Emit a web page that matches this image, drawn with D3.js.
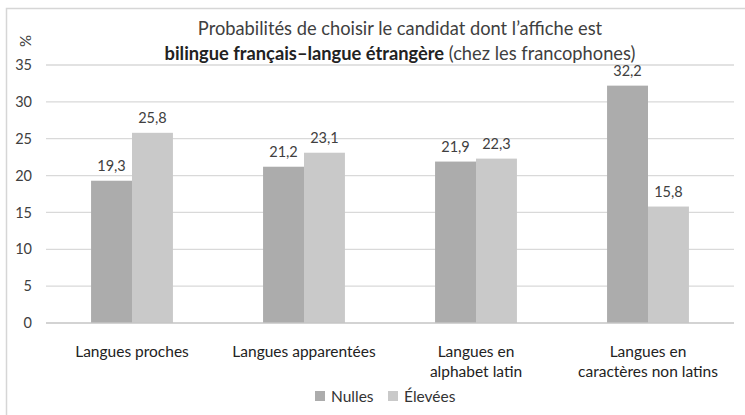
<!DOCTYPE html>
<html>
<head>
<meta charset="utf-8">
<script src="https://cdn.jsdelivr.net/npm/d3@7"></script>
<style>
  body { margin: 0; background: #fff; }
  svg { display: block; font-family: Lato, sans-serif; }
</style>
</head>
<body>
<div id="chart"></div>
<script>
// data
const categories = [
    ["Langues proches"],
    ["Langues apparentées"],
    ["Langues en", "alphabet latin"],
    ["Langues en", "caractères non latins"]
];
const seriesNames = ["Nulles", "Élevées"];
const nulles  = [19.3, 21.2, 21.9, 32.2];
const elevees = [25.8, 23.1, 22.3, 15.8];
const yTicks = [0, 5, 10, 15, 20, 25, 30, 35];

const colors = ["#acacac", "#c9c9c9"];
const textColor = "#404040";

var width = 745;
var height = 415;
var margin = { top: 65, bottom: 92, left: 46, right: 11 };

let svg = d3.select('#chart')
    .append('svg')
        .attr('width', width)
        .attr('height', height);

// frame of the original picture
svg.append('path')
    .attr('d', 'M6.5,415 V8.5 H745')
    .attr('fill', 'none')
    .attr('stroke', '#d6d6d6')
    .attr('stroke-width', 1.5);

let plotW = width - margin.left - margin.right;
let plotH = height - margin.top - margin.bottom;

let g = svg.append('g')
    .attr('transform', 'translate(' + margin.left + ',' + margin.top + ')');

let xScale = d3.scaleBand()
    .domain(d3.range(categories.length))
    .range([0, plotW])
    .paddingInner(0.524)
    .paddingOuter(0.262);

let xInner = d3.scaleBand()
    .domain(seriesNames)
    .range([0, xScale.bandwidth()]);

let yScale = d3.scaleLinear()
    .domain([0, 35])
    .range([plotH, 0]);

// gridlines
g.selectAll('.grid')
    .data(yTicks.filter(d => d > 0))
    .enter().append('line')
    .attr('x1', 0).attr('x2', plotW)
    .attr('y1', d => yScale(d)).attr('y2', d => yScale(d))
    .attr('stroke', '#d9d9d9')
    .attr('stroke-width', 1.3);

// y axis labels
let yAxis = d3.axisLeft(yScale)
    .tickValues(yTicks)
    .tickSize(0)
    .tickPadding(14);
g.append('g')
    .attr('class', 'y axis')
    .call(yAxis)
    .call(a => a.select('.domain').remove())
    .selectAll('text')
        .attr('font-size', '14.5px')
        .attr('font-family', 'Lato, sans-serif')
        .attr('fill', textColor);

// "%" label
svg.append('text')
    .attr('transform', 'translate(31,41) rotate(-90)')
    .attr('text-anchor', 'middle')
    .attr('font-size', '15px')
    .attr('fill', textColor)
    .text('%');

// bars
let groups = g.selectAll('.grp')
    .data(categories.map((c, i) => i))
    .enter().append('g')
    .attr('transform', i => 'translate(' + xScale(i) + ',0)');

let rows = [nulles, elevees];
groups.selectAll('rect')
    .data(i => seriesNames.map((s, k) => ({ s: s, k: k, v: rows[k][i] })))
    .enter().append('rect')
    .attr('x', d => xInner(d.s))
    .attr('width', xInner.bandwidth())
    .attr('y', d => yScale(d.v))
    .attr('height', d => plotH - yScale(d.v))
    .attr('fill', d => colors[d.k]);

groups.selectAll('.val')
    .data(i => seriesNames.map((s, k) => ({ s: s, k: k, v: rows[k][i] })))
    .enter().append('text')
    .attr('x', d => xInner(d.s) + xInner.bandwidth() / 2)
    .attr('y', d => yScale(d.v) - 10)
    .attr('text-anchor', 'middle')
    .attr('font-size', '14.5px')
    .attr('fill', textColor)
    .text(d => d3.format('.1f')(d.v).replace('.', ','));

// baseline
g.append('line')
    .attr('x1', 0).attr('x2', plotW)
    .attr('y1', plotH).attr('y2', plotH)
    .attr('stroke', '#c4c4c4')
    .attr('stroke-width', 1.5);

// category labels
groups.append('text')
    .attr('x', xScale.bandwidth() / 2)
    .attr('y', plotH + 34)
    .attr('text-anchor', 'middle')
    .attr('font-size', '15.5px')
    .attr('fill', '#222')
    .selectAll('tspan')
    .data(i => categories[i])
    .enter().append('tspan')
        .attr('x', xScale.bandwidth() / 2)
        .attr('dy', (d, j) => j === 0 ? 0 : 20)
        .text(d => d);

// title
let title = svg.append('text')
    .attr('text-anchor', 'middle')
    .attr('font-size', '18.3px')
    .attr('fill', '#404040');
title.append('tspan')
    .attr('x', 400).attr('y', 35)
    .text('Probabilités de choisir le candidat dont l’affiche est');
let t2 = title.append('tspan')
    .attr('x', 400).attr('y', 59.5);
t2.append('tspan').attr('font-weight', 'bold').attr('fill', '#222').text('bilingue français–langue étrangère');
t2.append('tspan').text(' (chez les francophones)');

// legend
let legend = svg.append('g')
    .attr('transform', 'translate(315,391)');
let item = legend.selectAll('.item')
    .data(seriesNames)
    .enter().append('g')
    .attr('transform', (d, i) => 'translate(' + (i * 73) + ',0)');
item.append('rect')
    .attr('width', 10).attr('height', 10)
    .attr('fill', (d, i) => colors[i]);
item.append('text')
    .attr('x', 16).attr('y', 11)
    .attr('font-size', '15.5px')
    .attr('fill', '#333')
    .text(d => d);
</script>
</body>
</html>
